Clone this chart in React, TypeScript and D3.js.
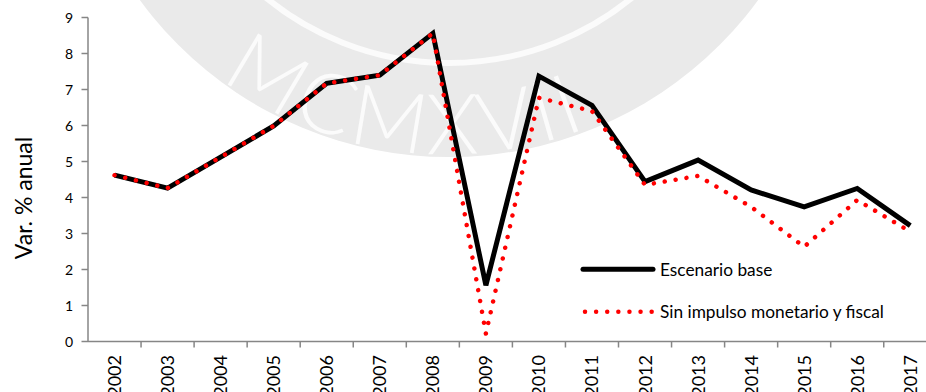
import React from "react";
import * as d3 from "d3";

// Annual growth rate (%), 2002-2017
const years = ["2002", "2003", "2004", "2005", "2006", "2007", "2008", "2009", "2010", "2011", "2012", "2013", "2014", "2015", "2016", "2017"];
const baseScenario = [4.62, 4.26, 5.12, 5.99, 7.17, 7.40, 8.56, 1.56, 7.37, 6.56, 4.44, 5.04, 4.21, 3.74, 4.25, 3.22];
const noStimulus = [4.62, 4.26, 5.12, 5.99, 7.17, 7.40, 8.56, 0.22, 6.77, 6.40, 4.35, 4.60, 3.74, 2.63, 3.93, 3.05];
const yTicks = [0, 1, 2, 3, 4, 5, 6, 7, 8, 9];
const seriesNames = ["Escenario base", "Sin impulso monetario y fiscal"];
const yTitle = "Var. % anual";
const sealText = "MCMXVII";

const W = 926;
const H = 392;
const FONT = "Lato, 'Open Sans', sans-serif";
const AXIS = "#868686";

export default function App() {
  const x = d3.scaleBand<string>().domain(years).range([88, 88 + 16 * 53.05]);
  const y = d3.scaleLinear().domain([0, 9]).range([341.5, 17.5]);
  const cx = (d: string) => (x(d) as number) + x.bandwidth() / 2;

  const line = d3
    .line<number>()
    .x((_, i) => cx(years[i]))
    .y((v) => y(v));

  // background seal
  const sc = { x: 449, y: -226, r: 383 };
  const R = 380;
  const a0 = (-60 * Math.PI) / 180;
  const sealPath = `M${sc.x + R * Math.sin(a0)},${sc.y + R * Math.cos(a0)} A${R},${R} 0 0 0 ${sc.x - R * Math.sin(a0)},${sc.y + R * Math.cos(a0)}`;
  const textOffset = R * ((52.5 * Math.PI) / 180);

  const [x0, x1] = x.range();

  return (
    <svg
      width={W}
      height={H}
      style={{ position: "absolute", left: 0, top: 0, display: "block", background: "#fff" }}
      fontFamily={FONT}
    >
      <defs>
        <path id="sealArc" d={sealPath} />
      </defs>
      <g>
        <circle cx={sc.x} cy={sc.y} r={sc.r} fill="#eaeaea" />
        <circle cx={sc.x} cy={sc.y} r={289} fill="none" stroke="#fbfbfb" strokeWidth={6} />
        <text fontSize={84} fontWeight={300} fill="#fbfbfb" fontFamily={FONT} letterSpacing={4}>
          <textPath href="#sealArc" startOffset={textOffset} textAnchor="middle">
            {sealText}
          </textPath>
        </text>
      </g>

      {/* y axis */}
      <line x1={x0} x2={x0} y1={y(9)} y2={y(0)} stroke={AXIS} strokeWidth={1.5} />
      {yTicks.map((t) => (
        <g key={t}>
          <line x1={x0 - 6.5} x2={x0} y1={y(t)} y2={y(t)} stroke={AXIS} strokeWidth={1.5} />
          <text x={73} y={y(t)} dy="0.36em" textAnchor="end" fontSize={14} fill="#000">
            {t}
          </text>
        </g>
      ))}
      <text
        transform={`translate(24,198) rotate(-90)`}
        textAnchor="middle"
        dy="0.36em"
        fontSize={23}
        fill="#000"
      >
        {yTitle}
      </text>

      {/* x axis */}
      <line x1={x0} x2={x1} y1={y(0)} y2={y(0)} stroke={AXIS} strokeWidth={1.5} />
      {years.map((yr) => (
        <line
          key={"t" + yr}
          x1={(x(yr) as number) + x.bandwidth()}
          x2={(x(yr) as number) + x.bandwidth()}
          y1={y(0)}
          y2={y(0) + 6}
          stroke={AXIS}
          strokeWidth={1.5}
        />
      ))}
      {years.map((yr) => (
        <text
          key={"l" + yr}
          transform={`translate(${cx(yr)},355) rotate(-90)`}
          textAnchor="end"
          dy="0.36em"
          fontSize={18}
          fill="#000"
        >
          {yr}
        </text>
      ))}

      {/* series */}
      <path d={line(baseScenario) as string} fill="none" stroke="#000" strokeWidth={5} strokeLinejoin="miter" />
      <path
        d={line(noStimulus) as string}
        fill="none"
        stroke="#ff0000"
        strokeWidth={4.5}
        strokeDasharray="0.01 11"
        strokeLinecap="round"
      />

      {/* legend */}
      <line x1={583} x2={653} y1={269.3} y2={269.3} stroke="#000" strokeWidth={5} strokeLinecap="round" />
      <text x={660} y={269.3} dy="0.36em" fontSize={17.3} fill="#000">
        {seriesNames[0]}
      </text>
      <line
        x1={585}
        x2={653}
        y1={311.7}
        y2={311.7}
        stroke="#ff0000"
        strokeWidth={4.5}
        strokeDasharray="0.01 11.1"
        strokeLinecap="round"
      />
      <text x={660} y={311.7} dy="0.36em" fontSize={17.3} fill="#000">
        {seriesNames[1]}
      </text>
    </svg>
  );
}
